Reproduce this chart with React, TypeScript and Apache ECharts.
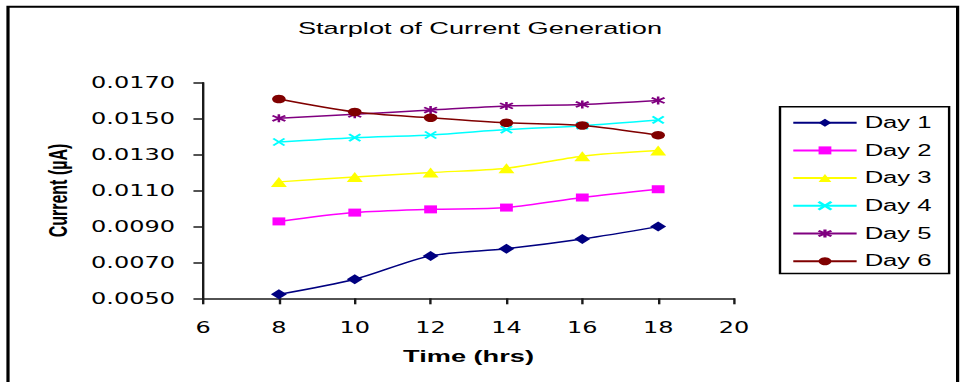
import React, { useEffect, useRef } from "react";
import * as echarts from "echarts";

const titleText = "Starplot of Current Generation";
const xName = "Time (hrs)";
const yName = "Current (µA)";
const hours = [8, 10, 12, 14, 16, 18];
const seriesNames = ["Day 1", "Day 2", "Day 3", "Day 4", "Day 5", "Day 6"];
const day1 = [0.00522, 0.00606, 0.00736, 0.00776, 0.0083, 0.00899];
const day2 = [0.00928, 0.00977, 0.00995, 0.01005, 0.01061, 0.01107];
const day3 = [0.01148, 0.01175, 0.012, 0.01224, 0.01291, 0.01322];
const day4 = [0.0137, 0.01394, 0.01409, 0.01439, 0.01461, 0.01493];
const day5 = [0.01502, 0.01524, 0.01548, 0.01571, 0.01579, 0.01601];
const day6 = [0.01609, 0.01537, 0.01505, 0.01477, 0.01462, 0.01408];
const yTicks = [0.005, 0.007, 0.009, 0.011, 0.013, 0.015, 0.017];
const xMin = 6;
const xMax = 20;
const xStep = 2;

const SX = 1.6;
const W = 960 / SX;
const H = 382;

const colors = ["#000080", "#FF00FF", "#FFFF00", "#00FFFF", "#800080", "#800000"];
const symbols = [
  "diamond",
  "rect",
  "triangle",
  "path://M0,0L10,10M10,0L0,10",
  "path://M5,0L5,10M0.6,1.6L9.4,8.4M9.4,1.6L0.6,8.4",
  "circle",
];
const symbolSizes: any[] = [10, 8, 10, 7, 8, 8.5];
const strokeSymbols = [false, false, false, true, true, false];

const FONT = "'Liberation Sans', Arial, Helvetica, sans-serif";
const TICKFONT = "'DejaVu Sans', 'Liberation Sans', Arial, sans-serif";

export default function App() {
  const ref = useRef<HTMLDivElement>(null);
  useEffect(() => {
    if (!ref.current) return;
    const chart = echarts.init(ref.current, null, { renderer: "svg" });
    const allDays = [day1, day2, day3, day4, day5, day6];
    const series = allDays.map((vals, i) => ({
      name: seriesNames[i],
      type: "line",
      data: hours.map((h, j) => [h, vals[j]]),
      smooth: 0.3,
      symbol: symbols[i],
      symbolSize: symbolSizes[i],
      showAllSymbol: true,
      lineStyle: { color: colors[i], width: 1.5 },
      itemStyle: strokeSymbols[i]
        ? { color: colors[i], borderColor: colors[i], borderWidth: 1.6 }
        : { color: colors[i], borderWidth: 0 },
      emphasis: { disabled: true },
      z: 3,
    }));
    const option: any = {
      animation: false,
      backgroundColor: "#ffffff",
      title: {
        text: titleText,
        left: "center",
        top: 20,
        padding: 0,
        textStyle: { fontSize: 17, fontWeight: "normal", color: "#000", fontFamily: FONT },
      },
      grid: { left: 126.9, right: W - 458.75, top: 82.7, bottom: H - 298.3 },
      xAxis: {
        type: "value",
        min: xMin,
        max: xMax,
        interval: xStep,
        name: xName,
        nameLocation: "middle",
        nameGap: 49,
        nameTextStyle: { fontSize: 17, fontWeight: "bold", color: "#000", fontFamily: FONT },
        axisLine: { show: true, onZero: false, lineStyle: { color: "#1a1a1a", width: 1.5 } },
        axisTick: { show: true, length: 6, lineStyle: { color: "#1a1a1a", width: 1.5 } },
        axisLabel: { margin: 22, fontSize: 15, color: "#000", fontFamily: TICKFONT },
        splitLine: { show: false },
      },
      yAxis: {
        type: "value",
        min: yTicks[0],
        max: yTicks[yTicks.length - 1],
        name: yName,
        nameLocation: "middle",
        nameGap: 82,
        nameTextStyle: { fontSize: 16, fontWeight: "bold", color: "#000", fontFamily: FONT },
        axisLine: { show: true, onZero: false, lineStyle: { color: "#1a1a1a", width: 1.5 } },
        axisTick: { show: true, length: 6, customValues: yTicks, lineStyle: { color: "#1a1a1a", width: 1.5 } },
        axisLabel: {
          margin: 17.5,
          fontSize: 15,
          color: "#000",
          fontFamily: TICKFONT,
          customValues: yTicks,
          formatter: (v: number) => v.toFixed(4),
        },
        splitLine: { show: false },
      },
      legend: {
        data: seriesNames,
        orient: "vertical",
        left: 487.5,
        top: 106.7,
        itemWidth: 39.6,
        itemHeight: 10,
        itemGap: 11.7,
        padding: [8, 11, 4.3, 7.3],
        backgroundColor: "#ffffff",
        borderColor: "#000",
        borderWidth: 1.5,
        borderRadius: 0,
        textStyle: { fontSize: 16, lineHeight: 16, color: "#000", fontFamily: FONT },
        selectedMode: false,
      },
      graphic: [
        {
          type: "rect",
          shape: { x: 5, y: 6.7, width: 593.5, height: 420 },
          style: { fill: "none", stroke: "#000", lineWidth: 2 },
          silent: true,
          z: -1,
        },
      ],
      series,
    };
    chart.setOption(option);
    return () => chart.dispose();
  }, []);
  return (
    <div
      ref={ref}
      style={{
        position: "absolute",
        left: 0,
        top: 0,
        width: W,
        height: H,
        transform: `scaleX(${SX})`,
        transformOrigin: "0 0",
      }}
    />
  );
}
